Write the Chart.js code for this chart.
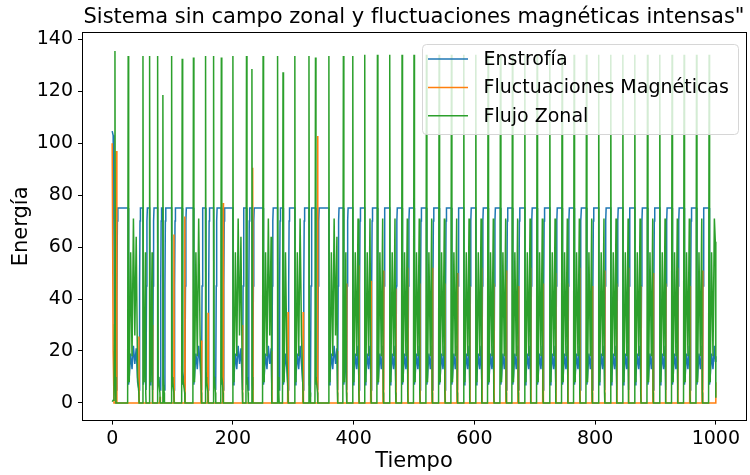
<!DOCTYPE html>
<html lang="es">
<head>
<meta charset="UTF-8">
<title>Sistema sin campo zonal y fluctuaciones magnéticas intensas</title>
<script src="https://cdn.jsdelivr.net/npm/chart.js"></script>
<style>
  html, body { margin: 0; padding: 0; background: #fff; }
  #wrap { width: 750px; height: 475px; }
</style>
</head>
<body>
<div id="wrap"><canvas id="chart" width="750" height="475"></canvas></div>
<script>
// --- datos ---
const seriesNames = ['Enstrofía', 'Fluctuaciones Magnéticas', 'Flujo Zonal'];
const xTicks = [0, 200, 400, 600, 800, 1000];
const yTicks = [0, 20, 40, 60, 80, 100, 120, 140];

// transitorio inicial (t < 10)
const startT      = [0, 1.6, 3.0, 4.0, 4.6, 5.4, 6.2, 7.0, 7.8, 8.6, 9.4];
const startBlue   = [104.6, 103, 60, 8, 4, 3, 3, 5, 40, 70, 75];
const startOrange = [100, 20, 0, 0, 0, 0, 60, 97, 0, 0, 0];
const startGreen  = [0.5, 1, 2, 30, 135.5, 10, 0, 0, 0, 0, 0];

// picos del flujo zonal (tiempo y altura)
const spikeT = [26.5, 51, 62, 75.3, 84, 98.5, 116, 134.6, 154.7, 168, 180.8, 200, 222.5, 231.5,
  250, 274, 283, 302.6, 326, 336.8, 359, 383, 398.6, 418.4, 439.4, 459.8, 480.2, 500, 520.6,
  541.6, 562, 582.5, 602.4, 622.7, 643.2, 663, 683.6, 703.9, 725, 745.3, 765.2, 785.7, 806,
  826, 846, 865.8, 886.8, 907.2, 927.5, 947.4, 968, 988.9];
const spikeH = [133.5, 133.5, 133.5, 133.5, 118.5, 133.5, 132.5, 133, 133.5, 133.5, 133, 133.5,
  133.5, 128.5, 133.5, 133.5, 127.3, 133.5, 133.5, 133, 133.5, 133.5, 133.5, 134, 134, 134, 134,
  134, 134, 134, 134, 134, 134, 134, 134, 134, 134, 134, 134, 134, 134, 134, 134, 134, 134, 134,
  134, 134, 134, 134, 134, 134];
// instante en que la enstrofía vuelve a la meseta de 75
const riseT = [45, 56.5, 67.5, 80, 87, 103, 121, 148.5, 159.5, 172, 184.5, 216.5, 226, 233.5,
  265, 277, 292, 317, 329, 341, 374, 389, 409.5, 429.5, 450, 470.5, 490.5, 510.5, 531, 552,
  572.5, 593, 613, 633, 653.5, 673.5, 694, 714.5, 735.5, 755.5, 775.5, 796, 816.5, 836.5, 856,
  876.5, 897, 917.5, 937.5, 958, 978.5, null];
// pico magnético justo antes de cada recuperación
const orangeH = [25.6, 0, 30, 2.4, 0, 64.8, 71.8, 24, 34.7, 0, 77, 30, 0, 90.5, 20, 0, 35, 35, 0,
  102.7, 20, 46, 53, 47, 51, 44, 52, 46, 52, 46, 50, 45, 52, 46, 51, 45, 52, 46, 50, 46, 52, 45,
  51, 46, 52, 45, 50, 46, 52, 45, 51, 0];

// forma de la fase baja (oscilación enstrofía / flujo zonal)
const lowBlue  = [10, 19, 13, 22, 15, 21, 8, 20, 16, 23, 14, 19];
const lowGreen = [8, 58, 18, 71, 26, 64, 10, 73, 30, 60, 12, 68, 22, 55, 6, 66];

// final (t = 1000)
const endT      = [999.2, 1000];
const endBlue   = [16, 18];
const endOrange = [0, 8];
const endGreen  = [62, 2];

function buildSeries() {
  const blue = [], orange = [], green = [];
  startT.forEach((t, i) => {
    blue.push({x: t, y: startBlue[i]});
    orange.push({x: t, y: startOrange[i]});
    green.push({x: t, y: startGreen[i]});
  });
  spikeT.forEach((s, i) => {
    const r = riseT[i];
    const end = r === null ? 1000 : r;
    green.push({x: s - 0.9, y: 0}, {x: s, y: spikeH[i]}, {x: s + 0.8, y: 10});
    blue.push({x: s, y: 75}, {x: s + 0.7, y: 7});
    let k = 0;
    for (let t = s + 1.8; t < end - 1.2; t += 2.3, k++) {
      blue.push({x: t, y: lowBlue[k % lowBlue.length]});
      green.push({x: t, y: lowGreen[k % lowGreen.length]});
    }
    if (r === null) return;
    green.push({x: r - 0.9, y: 4}, {x: r - 0.4, y: 0});
    blue.push({x: r - 0.5, y: 5}, {x: r + 0.4, y: 45}, {x: r + 1.1, y: 70}, {x: r + 1.8, y: 75});
    if (orangeH[i] > 0) {
      orange.push({x: r - 1.4, y: 0}, {x: r - 0.7, y: orangeH[i]}, {x: r - 0.1, y: 0});
    }
  });
  endT.forEach((t, i) => {
    blue.push({x: t, y: endBlue[i]});
    orange.push({x: t, y: endOrange[i]});
    green.push({x: t, y: endGreen[i]});
  });
  return [blue, orange, green];
}

const [blueData, orangeData, greenData] = buildSeries();
const colors = ['#1f77b4', '#ff7f0e', '#2ca02c'];
const FONT = '"DejaVu Sans", sans-serif';

// marco completo de los ejes (estilo matplotlib)
const frame = {
  id: 'frame',
  afterDatasetsDraw(chart) {
    const {ctx, chartArea: a} = chart;
    ctx.save();
    ctx.strokeStyle = '#000';
    ctx.lineWidth = 1;
    ctx.strokeRect(Math.round(a.left) + 0.5, Math.round(a.top) + 0.5,
      Math.round(a.right - a.left), Math.round(a.bottom - a.top));
    ctx.restore();
  }
};

// leyenda dentro del área de trazado, arriba a la derecha
const boxLegend = {
  id: 'boxLegend',
  afterDraw(chart) {
    const ctx = chart.ctx;
    const x0 = 422.5, y0 = 44.5, x1 = 738.5, y1 = 134.5, r = 4;
    ctx.save();
    ctx.beginPath();
    ctx.moveTo(x0 + r, y0);
    ctx.arcTo(x1, y0, x1, y1, r);
    ctx.arcTo(x1, y1, x0, y1, r);
    ctx.arcTo(x0, y1, x0, y0, r);
    ctx.arcTo(x0, y0, x1, y0, r);
    ctx.closePath();
    ctx.fillStyle = 'rgba(255,255,255,0.8)';
    ctx.fill();
    ctx.strokeStyle = '#d6d6d6';
    ctx.lineWidth = 1;
    ctx.stroke();
    chart.data.datasets.forEach((ds, i) => {
      const y = 59 + i * 28.4;
      ctx.strokeStyle = ds.borderColor;
      ctx.lineWidth = 1.5;
      ctx.beginPath();
      ctx.moveTo(428, y);
      ctx.lineTo(468, y);
      ctx.stroke();
      ctx.fillStyle = '#000';
      ctx.font = '19px ' + FONT;
      ctx.textBaseline = 'middle';
      ctx.fillText(ds.label, 483.5, y + 1);
    });
    ctx.restore();
  }
};

Chart.defaults.color = '#000';
Chart.defaults.font.family = FONT;

new Chart(document.getElementById('chart'), {
  type: 'line',
  data: {
    datasets: [
      {label: seriesNames[0], data: blueData, borderColor: colors[0], order: 3},
      {label: seriesNames[1], data: orangeData, borderColor: colors[1], order: 2},
      {label: seriesNames[2], data: greenData, borderColor: colors[2], order: 1}
    ]
  },
  options: {
    responsive: false,
    animation: false,
    events: [],
    elements: {
      line: {borderWidth: 1.5, tension: 0, fill: false},
      point: {radius: 0}
    },
    layout: {padding: {left: 0, right: 4, top: 0, bottom: 0}},
    plugins: {
      legend: {display: false},
      tooltip: {enabled: false},
      title: {
        display: true,
        fullSize: false,
        text: 'Sistema sin campo zonal y fluctuaciones magnéticas intensas"',
        font: {size: 21, weight: 'normal'},
        color: '#000',
        padding: {top: 5, bottom: 2}
      }
    },
    scales: {
      x: {
        type: 'linear',
        min: -50,
        max: 1050,
        afterBuildTicks: (scale) => { scale.ticks = xTicks.map(v => ({value: v})); },
        afterFit: (scale) => { scale.height = 54.4; },
        ticks: {font: {size: 19}, padding: 3, maxRotation: 0, color: '#000', callback: v => String(v)},
        grid: {drawOnChartArea: false, drawTicks: true, tickLength: 4, tickColor: '#000'},
        border: {display: false},
        title: {display: true, text: 'Tiempo', font: {size: 21}, padding: {top: 0, bottom: 0.5}}
      },
      y: {
        type: 'linear',
        min: -6.8,
        max: 142.7,
        afterBuildTicks: (scale) => { scale.ticks = yTicks.map(v => ({value: v})); },
        afterFit: (scale) => { scale.width = 82; },
        ticks: {font: {size: 19}, padding: 5, color: '#000', callback: v => String(v)},
        grid: {drawOnChartArea: false, drawTicks: true, tickLength: 4, tickColor: '#000'},
        border: {display: false},
        title: {display: true, text: 'Energía', font: {size: 21}, padding: {top: 9.4, bottom: 0}}
      }
    }
  },
  plugins: [frame, boxLegend]
});
</script>
</body>
</html>
